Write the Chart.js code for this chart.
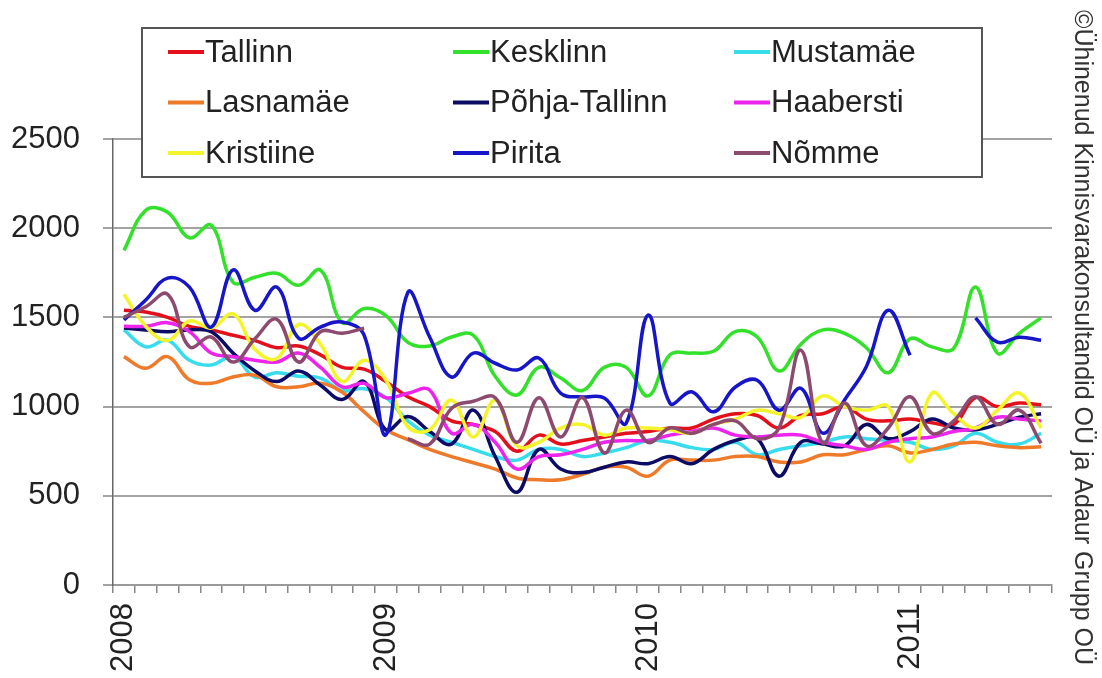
<!DOCTYPE html>
<html>
<head>
<meta charset="utf-8">
<script src="https://cdn.jsdelivr.net/npm/chart.js@4/dist/chart.umd.min.js"></script>
<style>
html,body{margin:0;padding:0;background:#fff;}
#wrap{width:1102px;height:678px;}
</style>
</head>
<body>
<div id="wrap"><canvas id="c" width="1102" height="678"></canvas></div>
<script>
// Months Jan 2008 .. Jul 2011
const years = ['2008','2009','2010','2011'];
const months = [];
for (const y of years) {
  for (let m = 1; m <= 12; m++) {
    if (y === '2011' && m > 7) break;
    months.push(y + '-' + String(m).padStart(2, '0'));
  }
}
const yTicks = [0, 500, 1000, 1500, 2000, 2500];

const tallinn = [1540,1530,1500,1450,1430,1400,1370,1330,1340,1290,1220,1210,1140,1055,1000,920,900,860,750,840,790,810,830,850,860,880,880,930,960,950,880,950,960,1000,930,920,930,910,900,1050,1000,1020,1010];
const kesklinn = [1876,2100,2090,1946,2016,1697,1725,1747,1680,1765,1470,1550,1510,1360,1340,1390,1400,1170,1065,1220,1160,1090,1220,1220,1060,1290,1300,1310,1420,1390,1200,1350,1430,1410,1330,1190,1380,1335,1327,1670,1300,1411,1497];
const mustamae = [1430,1335,1372,1260,1233,1280,1166,1190,1170,1160,1090,1100,1050,920,840,800,760,720,700,760,760,720,740,770,810,800,770,760,800,730,760,780,800,830,820,810,800,760,780,850,800,790,850];
const lasnamae = [1280,1215,1280,1150,1131,1166,1176,1111,1111,1131,1080,970,870,815,760,720,685,650,600,590,590,620,660,660,610,700,700,700,720,720,690,690,730,730,760,780,740,760,790,800,780,770,775];
const pohja = [1440,1430,1420,1430,1420,1300,1200,1140,1200,1120,1040,1140,870,944,860,790,980,720,520,760,650,630,660,690,680,720,680,760,810,820,610,800,790,780,900,820,860,930,880,870,900,940,960];
const haabersti = [1450,1450,1470,1420,1300,1280,1260,1250,1300,1220,1110,1130,1050,1075,1093,851,900,800,650,720,730,760,800,810,810,840,860,880,840,830,840,840,800,780,760,800,820,830,860,880,940,930,920];
const kristiine = [1630,1450,1370,1480,1440,1520,1320,1270,1460,1350,1140,1260,1148,887,870,1037,829,1037,780,800,880,900,840,880,880,870,850,900,930,980,960,940,1060,1000,980,1000,690,1075,960,880,980,1075,880];
const pirita = [1486,1598,1720,1670,1446,1766,1540,1670,1384,1446,1474,1400,842,1640,1390,1166,1300,1243,1205,1272,1075,1054,1048,907,1513,1020,1083,971,1110,1148,980,1103,851,1037,1225,1540,1288,null,null,1497,1361,1389,1372];
const nomme = [1500,1560,1630,1335,1390,1250,1380,1490,1250,1420,1411,1440,null,820,790,990,1030,1050,800,1050,830,1050,740,980,800,880,850,900,920,820,880,1317,795,1020,780,880,1055,851,920,1055,900,980,795];

const seriesNames = ['Tallinn','Kesklinn','Mustamäe','Lasnamäe','Põhja-Tallinn','Haabersti','Kristiine','Pirita','Nõmme'];
const seriesData = [tallinn,kesklinn,mustamae,lasnamae,pohja,haabersti,kristiine,pirita,nomme];
const seriesColors = ['#e3101c','#33e02a','#38dcec','#ee7a2a','#0c0c66','#ec24ec','#f4f42c','#1616c8','#8c4a6e'];
const copyright = '©Ühinenud Kinnisvarakonsultandid OÜ ja Adaur Grupp OÜ';

const FONT = '"Liberation Sans", Arial, sans-serif';

const legendPlugin = {
  id: 'boxLegend',
  afterDraw(chart) {
    const ctx = chart.ctx;
    ctx.save();
    const L = 142, T = 28, R = 982, B = 177;
    ctx.fillStyle = '#ffffff';
    ctx.fillRect(L, T, R - L, B - T);
    ctx.strokeStyle = '#555555';
    ctx.lineWidth = 2;
    ctx.strokeRect(L, T, R - L, B - T);
    const colX = [168, 453, 734];
    const rowY = [52, 102.5, 153];
    ctx.font = '31px ' + FONT;
    ctx.textBaseline = 'middle';
    ctx.textAlign = 'left';
    chart.data.datasets.forEach((ds, i) => {
      const cx = colX[i % 3], cy = rowY[Math.floor(i / 3)];
      ctx.strokeStyle = ds.borderColor;
      ctx.lineWidth = 4;
      ctx.beginPath();
      ctx.moveTo(cx, cy);
      ctx.lineTo(cx + 36, cy);
      ctx.stroke();
      ctx.fillStyle = '#222222';
      ctx.fillText(ds.label, cx + 37, cy + 1);
    });
    ctx.font = '25px ' + FONT;
    ctx.fillStyle = '#333333';
    const w = ctx.measureText(copyright).width;
    ctx.translate(1082, 10);
    ctx.rotate(Math.PI / 2);
    ctx.scale(655 / w, 1);
    ctx.textBaseline = 'middle';
    ctx.fillText(copyright, 0, 0);
    ctx.restore();
  }
};

const datasets = seriesNames.map((name, i) => ({
  label: name,
  data: seriesData[i],
  borderColor: seriesColors[i],
  backgroundColor: seriesColors[i],
  borderWidth: 3.5,
  pointRadius: 0,
  pointHoverRadius: 0,
  tension: 0.4,
  spanGaps: false,
  fill: false,
  order: seriesNames.length - i
}));

new Chart(document.getElementById('c'), {
  type: 'line',
  data: { labels: months, datasets },
  options: {
    responsive: false,
    devicePixelRatio: 1,
    animation: false,
    layout: { padding: { left: 0, top: 139, right: 50, bottom: 0 } },
    plugins: { legend: { display: false }, tooltip: { enabled: false } },
    scales: {
      x: {
        type: 'category',
        offset: true,
        afterFit(scale) { scale.height = 93; },
        grid: { drawOnChartArea: false, drawTicks: true, tickLength: 8, offset: true, color: '#888888', lineWidth: 1.5 },
        border: { display: true, color: '#9a9a9a', width: 2 },
        ticks: {
          autoSkip: false,
          maxRotation: 90,
          minRotation: 90,
          padding: 10,
          color: '#222222',
          font: { family: FONT, size: 31 },
          callback(value, index) {
            const m = months[index];
            return m.endsWith('-01') ? m.slice(0, 4) : '';
          }
        }
      },
      y: {
        min: 0,
        max: 2500,
        afterFit(scale) { scale.width = 113; },
        afterBuildTicks(scale) { scale.ticks = yTicks.map(v => ({ value: v })); },
        grid: { color: '#a3a3a3', lineWidth: 2, tickLength: 10, drawTicks: true },
        border: { display: true, color: '#666666', width: 1.5 },
        ticks: {
          padding: 23,
          color: '#222222',
          font: { family: FONT, size: 31 },
          callback(value) { return String(value); }
        }
      }
    }
  },
  plugins: [legendPlugin]
});
</script>
</body>
</html>
